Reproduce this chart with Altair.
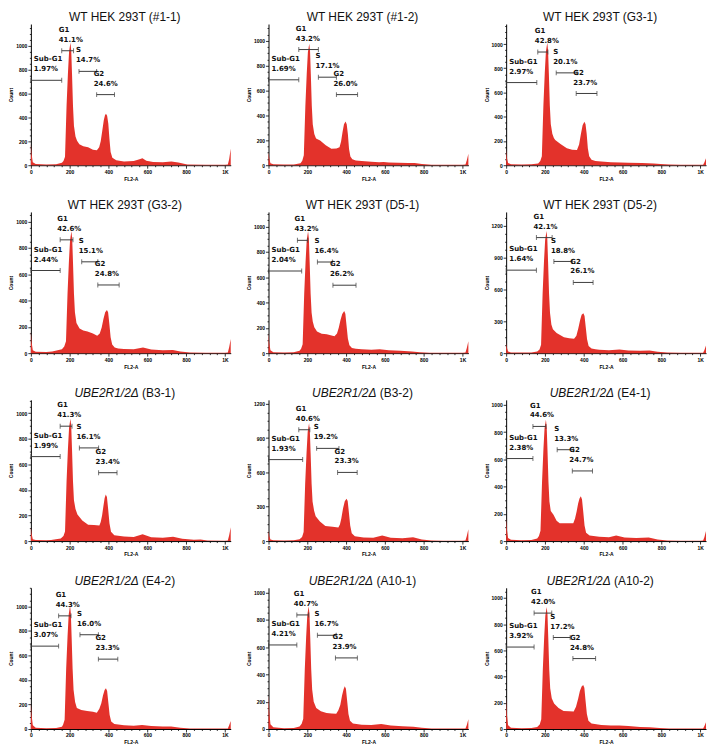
import altair as alt
import pandas as pd

# ---------------- panel text ----------------
panel_prefix = ["WT HEK 293T"] * 6 + ["UBE2R1/2Δ"] * 6
panel_clone = ["(#1-1)", "(#1-2)", "(G3-1)", "(G3-2)", "(D5-1)", "(D5-2)",
               "(B3-1)", "(B3-2)", "(E4-1)", "(E4-2)", "(A10-1)", "(A10-2)"]
prefix_italic = [False] * 6 + [True] * 6

# y-axis extent and major tick step of each panel
y_top = [1184, 1134, 1165, 1073, 1114, 1332, 1105, 1234, 1037, 1152, 1035, 1077]
y_major = [200, 200, 200, 200, 200, 300, 200, 300, 200, 200, 200, 200]

# gate percentages
pct_subg1 = ["1.97%", "1.69%", "2.97%", "2.44%", "2.04%", "1.64%",
             "1.99%", "1.93%", "2.38%", "3.07%", "4.21%", "3.92%"]
pct_g1 = ["41.1%", "43.2%", "42.8%", "42.6%", "43.2%", "42.1%",
          "41.3%", "40.6%", "44.6%", "44.3%", "40.7%", "42.0%"]
pct_s = ["14.7%", "17.1%", "20.1%", "15.1%", "16.4%", "18.8%",
         "16.1%", "19.2%", "13.3%", "16.0%", "16.7%", "17.2%"]
pct_g2 = ["24.6%", "26.0%", "23.7%", "24.8%", "26.2%", "26.1%",
          "23.4%", "23.3%", "24.7%", "23.3%", "23.9%", "24.8%"]

# gate ranges (FL2-A units) and gate heights (counts)
subg1_end = [159, 156, 158, 151, 171, 156, 151, 176, 138, 143, 146, 144]
subg1_level = [712, 686, 682, 628, 648, 783, 661, 712, 606, 676, 616, 625]
g1_start = [159, 156, 163, 151, 149, 156, 151, 156, 138, 143, 146, 144]
g1_end = [220, 257, 215, 217, 202, 237, 212, 213, 205, 207, 207, 235]
g1_level = [960, 929, 934, 861, 890, 1090, 899, 973, 842, 923, 836, 884]
s_start = [248, 257, 258, 262, 252, 246, 250, 248, 263, 253, 252, 243]
s_end = [339, 350, 365, 345, 329, 341, 349, 363, 346, 348, 349, 330]
s_level = [787, 707, 762, 694, 719, 865, 729, 810, 671, 769, 687, 698]
g2_start = [339, 350, 361, 345, 332, 346, 349, 356, 341, 348, 345, 344]
g2_end = [431, 459, 468, 455, 451, 448, 444, 457, 445, 448, 458, 461]
g2_level = [592, 567, 592, 518, 536, 667, 535, 600, 515, 570, 521, 537]

# ---------------- histograms (FL2-A channel, count) ----------------
fl2_p1 = [0, 4, 10, 25, 80, 130, 160, 168, 176, 184, 191, 197, 204, 208, 212, 217, 222, 230, 238, 250, 270, 295, 320, 340, 352,
          360, 368, 376, 382, 387, 393, 399, 405, 411, 420, 440, 480, 530, 560, 575, 595, 630, 680, 724, 760, 806, 900, 1000,
          1015, 1022, 1030]
cnt_p1 = [180, 90, 25, 10, 6, 8, 20, 35, 70, 500, 770, 955, 1027, 965, 770, 500, 330, 240, 205, 175, 160, 150, 130, 125, 150,
          200, 290, 380, 420, 432, 415, 350, 220, 110, 62, 42, 32, 35, 50, 58, 38, 26, 24, 32, 22, 5, 3, 3,
          6, 50, 140]

fl2_p2 = [0, 4, 10, 25, 80, 130, 165, 174, 182, 190, 197, 203, 210, 214, 218, 223, 228, 236, 245, 266, 295, 324, 350, 366, 374,
          382, 389, 397, 403, 409, 415, 422, 432, 450, 480, 530, 570, 593, 620, 670, 720, 753, 790, 840, 900, 1000, 1015, 1022, 1030]
cnt_p2 = [105, 55, 15, 8, 5, 6, 15, 35, 80, 480, 735, 910, 976, 920, 735, 480, 330, 250, 215, 198, 160, 132, 135, 145, 190,
          270, 330, 351, 330, 250, 130, 70, 48, 38, 33, 28, 24, 26, 22, 20, 17, 18, 10, 4, 3, 3, 5, 40, 92]

fl2_p3 = [0, 4, 10, 25, 80, 130, 165, 176, 184, 192, 199, 205, 212, 216, 220, 225, 230, 238, 246, 253, 280, 313, 340, 365, 376,
          385, 394, 403, 409, 415, 421, 428, 440, 460, 490, 540, 589, 630, 700, 760, 795, 840, 900, 1000, 1015, 1022, 1030]
cnt_p3 = [126, 60, 18, 8, 5, 7, 15, 35, 75, 495, 760, 940, 1011, 950, 760, 495, 340, 260, 225, 208, 175, 140, 128, 126, 170,
          255, 330, 359, 340, 260, 140, 75, 45, 35, 30, 24, 22, 20, 18, 14, 11, 6, 3, 3, 4, 25, 58]

fl2_p4 = [0, 4, 10, 25, 80, 110, 160, 172, 181, 189, 196, 202, 209, 213, 217, 222, 227, 235, 251, 270, 292, 320, 342, 355, 365,
          374, 383, 392, 398, 404, 411, 419, 432, 450, 480, 530, 578, 620, 680, 732, 770, 820, 900, 1000, 1015, 1022, 1030]
cnt_p4 = [164, 80, 22, 10, 8, 12, 30, 50, 90, 455, 695, 860, 927, 870, 695, 455, 310, 230, 188, 172, 164, 150, 132, 150, 195,
          260, 310, 328, 310, 230, 120, 65, 42, 36, 32, 30, 42, 28, 22, 24, 12, 5, 3, 3, 5, 45, 108]

fl2_p5 = [0, 4, 10, 25, 80, 130, 160, 168, 176, 184, 191, 197, 204, 208, 212, 217, 222, 228, 236, 250, 274, 300, 340, 353, 362,
          371, 380, 390, 396, 402, 409, 417, 430, 450, 480, 530, 573, 620, 680, 739, 780, 830, 900, 1000, 1015, 1022, 1030]
cnt_p5 = [158, 80, 22, 8, 6, 8, 18, 35, 70, 470, 720, 895, 962, 905, 720, 470, 320, 250, 205, 170, 153, 150, 133, 155, 200,
          262, 308, 332, 310, 220, 115, 62, 40, 34, 30, 26, 31, 22, 18, 13, 8, 4, 3, 3, 5, 40, 94]

fl2_p6 = [0, 4, 10, 25, 80, 130, 160, 172, 180, 188, 195, 201, 208, 212, 216, 221, 226, 233, 241, 260, 298, 325, 350, 362, 372,
          381, 389, 398, 404, 410, 417, 425, 440, 460, 480, 530, 584, 630, 690, 739, 780, 830, 900, 1000, 1015, 1022, 1030]
cnt_p6 = [94, 50, 15, 7, 5, 7, 15, 35, 80, 565, 865, 1070, 1153, 1085, 865, 565, 380, 270, 225, 190, 150, 140, 135, 165, 235,
          310, 362, 376, 350, 250, 130, 68, 43, 36, 32, 28, 34, 26, 22, 25, 12, 5, 3, 3, 4, 30, 72]

fl2_p7 = [0, 4, 10, 25, 80, 104, 154, 168, 176, 184, 191, 197, 204, 208, 212, 217, 222, 230, 240, 265, 295, 325, 353, 360, 367,
          374, 380, 386, 392, 398, 405, 413, 430, 480, 530, 576, 620, 680, 733, 780, 840, 874, 910, 1000, 1015, 1022, 1030]
cnt_p7 = [108, 55, 15, 8, 6, 8, 20, 40, 75, 470, 720, 890, 957, 900, 720, 470, 320, 250, 208, 160, 128, 125, 121, 150, 200,
          275, 335, 364, 345, 255, 140, 72, 46, 35, 32, 53, 30, 26, 33, 18, 10, 13, 4, 3, 5, 45, 108]

fl2_p8 = [0, 4, 10, 25, 80, 130, 160, 173, 181, 189, 196, 202, 209, 213, 217, 222, 227, 235, 243, 265, 293, 330, 360, 368, 375,
          384, 393, 402, 408, 414, 421, 429, 445, 490, 540, 586, 630, 690, 745, 790, 840, 900, 1000, 1015, 1022, 1030]
cnt_p8 = [90, 45, 14, 7, 5, 7, 16, 35, 80, 505, 770, 955, 1029, 965, 770, 505, 345, 265, 216, 170, 132, 125, 118, 145, 195,
          285, 348, 370, 350, 255, 135, 68, 43, 32, 30, 48, 30, 24, 34, 14, 5, 3, 3, 5, 45, 104]

fl2_p9 = [0, 4, 10, 25, 80, 130, 160, 169, 177, 185, 192, 198, 205, 209, 213, 218, 223, 230, 244, 260, 276, 310, 346, 355, 363,
          371, 378, 385, 391, 397, 404, 412, 430, 480, 530, 567, 610, 670, 735, 780, 830, 900, 1000, 1015, 1022, 1030]
cnt_p9 = [168, 85, 22, 9, 6, 8, 18, 38, 75, 435, 670, 830, 891, 840, 670, 435, 290, 220, 193, 150, 131, 131, 131, 165, 215,
          275, 312, 329, 305, 220, 115, 62, 41, 32, 28, 40, 26, 22, 27, 12, 5, 3, 3, 5, 30, 74]

fl2_p10 = [0, 4, 10, 25, 80, 130, 160, 166, 174, 182, 189, 195, 202, 206, 210, 215, 220, 228, 237, 260, 290, 320, 340, 353, 363,
           372, 380, 387, 393, 399, 406, 414, 430, 480, 530, 573, 620, 680, 723, 770, 820, 900, 1000, 1015, 1022, 1030]
cnt_p10 = [212, 110, 30, 10, 6, 8, 18, 35, 75, 495, 755, 935, 1008, 945, 755, 495, 320, 220, 172, 155, 146, 140, 133, 165, 210,
           275, 318, 332, 310, 220, 115, 62, 41, 30, 27, 32, 24, 20, 21, 10, 5, 3, 3, 4, 30, 66]

fl2_p11 = [0, 4, 10, 25, 80, 130, 160, 171, 179, 187, 194, 200, 207, 211, 215, 220, 225, 233, 246, 270, 299, 325, 349, 360, 370,
           379, 387, 393, 399, 405, 412, 420, 435, 480, 530, 581, 630, 690, 747, 790, 840, 900, 1000, 1015, 1022, 1030]
cnt_p11 = [249, 130, 35, 12, 6, 8, 18, 38, 75, 440, 675, 835, 900, 845, 675, 440, 290, 200, 154, 130, 118, 114, 111, 138, 175,
           245, 292, 313, 295, 210, 110, 60, 41, 32, 30, 36, 26, 20, 17, 9, 4, 3, 3, 4, 30, 71]

fl2_p12 = [0, 4, 10, 25, 80, 130, 160, 173, 181, 189, 196, 202, 209, 213, 217, 222, 227, 235, 247, 270, 296, 325, 348, 360, 371,
           380, 389, 397, 403, 409, 416, 424, 440, 490, 540, 583, 630, 690, 739, 790, 840, 900, 1000, 1015, 1022, 1030]
cnt_p12 = [233, 110, 28, 10, 6, 8, 16, 35, 75, 455, 700, 865, 930, 875, 700, 455, 310, 235, 194, 160, 137, 135, 134, 170, 230,
           290, 325, 336, 315, 220, 115, 62, 41, 30, 26, 26, 22, 16, 13, 8, 4, 3, 3, 4, 22, 52]

fl2_all = [fl2_p1, fl2_p2, fl2_p3, fl2_p4, fl2_p5, fl2_p6, fl2_p7, fl2_p8, fl2_p9, fl2_p10, fl2_p11, fl2_p12]
cnt_all = [cnt_p1, cnt_p2, cnt_p3, cnt_p4, cnt_p5, cnt_p6, cnt_p7, cnt_p8, cnt_p9, cnt_p10, cnt_p11, cnt_p12]

# ---------------- styling ----------------
RED = "#e3322b"
GATE = "#3c3c3c"
W, H = 201, 142
X_MAX = 1030
LBL_FONT = "DejaVu Sans"
TITLE_FONT = "Liberation Sans"
TITLE_SIZE = 12

CHAR_W = {"W": .944, "T": .611, "H": .722, "E": .667, "K": .667, "U": .722, "B": .667, "R": .722,
          "A": .667, "D": .722, "G": .778, "#": .556, "(": .333, ")": .333, "-": .333, "/": .278,
          " ": .278, "Δ": .668}


def text_width(s):
    return sum(CHAR_W.get(c, .556) for c in s) * TITLE_SIZE


def make_panel(i):
    hist = pd.DataFrame({"fl2": fl2_all[i], "count": cnt_all[i]})
    gates = pd.DataFrame({
        "gate": ["Sub-G1", "G1", "S", "G2"],
        "start": [0, g1_start[i], s_start[i], g2_start[i]],
        "end": [subg1_end[i], g1_end[i], s_end[i], g2_end[i]],
        "level": [subg1_level[i], g1_level[i], s_level[i], g2_level[i]],
        "pct": [pct_subg1[i], pct_g1[i], pct_s[i], pct_g2[i]],
    })

    major = y_major[i]
    minor = major // 4
    y_vals = list(range(0, y_top[i] + 1, minor))
    x_vals = list(range(0, 1001, 40))

    xscale = alt.Scale(domain=[0, X_MAX], nice=False, zero=False)
    yscale = alt.Scale(domain=[0, y_top[i]], nice=False)
    xaxis = alt.Axis(
        values=x_vals, title="FL2-A",
        labelExpr="datum.value % 200 === 0 ? (datum.value === 1000 ? '1K' : '' + datum.value) : ''",
        tickSize={"condition": {"test": "datum.value % 200 === 0", "value": 3}, "value": 1.5},
    )
    yaxis = alt.Axis(
        values=y_vals, title="Count",
        labelExpr=f"datum.value % {major} === 0 ? '' + datum.value : ''",
        tickSize={"condition": {"test": f"datum.value % {major} === 0", "value": 3}, "value": 1.5},
    )

    def X(field):
        return alt.X(field, type="quantitative", scale=xscale, axis=xaxis)

    def Y(field):
        return alt.Y(field, type="quantitative", scale=yscale, axis=yaxis)

    area = alt.Chart(hist).mark_area(color=RED, interpolate="linear", opacity=1).encode(
        x=X("fl2"), y=Y("count"))

    base_g = alt.Chart(gates)
    rule = base_g.mark_rule(color=GATE, strokeWidth=1).encode(x=X("start"), x2="end", y=Y("level"))
    ticks = base_g.transform_fold(["start", "end"], as_=["side", "pos"]).mark_tick(
        orient="vertical", size=5, thickness=1, color=GATE).encode(x=X("pos"), y=Y("level"))

    txt = dict(font=LBL_FONT, fontWeight="bold", fontSize=7, color="#111",
               align="left", baseline="alphabetic")
    sub = base_g.transform_filter("datum.gate === 'Sub-G1'")
    oth = base_g.transform_filter("datum.gate !== 'Sub-G1'")
    name_sub = sub.mark_text(dx=3, dy=-19, **txt).encode(x=X("start"), y=Y("level"), text="gate:N")
    pct_sub_l = sub.mark_text(dx=3, dy=-9, **txt).encode(x=X("start"), y=Y("level"), text="pct:N")
    name_oth = oth.mark_text(dx=-3, dy=-19, **txt).encode(x=X("start"), y=Y("level"), text="gate:N")
    pct_oth_l = oth.mark_text(dx=-3, dy=-9, **txt).encode(x=X("start"), y=Y("level"), text="pct:N")

    # panel title (italic gene name for the knockout clones)
    cx = W / 2 - 6
    tstyle = dict(font=TITLE_FONT, fontSize=TITLE_SIZE, color="#111", baseline="alphabetic")
    if prefix_italic[i]:
        w_it = text_width(panel_prefix[i])
        total = w_it + text_width(" ") + text_width(panel_clone[i])
        split = cx - total / 2 + w_it
        t1 = alt.Chart(pd.DataFrame({"t": [panel_prefix[i]]})).mark_text(
            align="right", fontStyle="italic", **tstyle).encode(
            x=alt.value(split), y=alt.value(-3), text="t:N")
        t2 = alt.Chart(pd.DataFrame({"t": [panel_clone[i]]})).mark_text(
            align="left", **tstyle).encode(
            x=alt.value(split + text_width(" ")), y=alt.value(-3), text="t:N")
        titles = [t1, t2]
    else:
        t1 = alt.Chart(pd.DataFrame({"t": [panel_prefix[i] + " " + panel_clone[i]]})).mark_text(
            align="center", **tstyle).encode(x=alt.value(cx), y=alt.value(-3), text="t:N")
        titles = [t1]

    return alt.layer(area, rule, ticks, name_sub, pct_sub_l, name_oth, pct_oth_l, *titles).properties(
        width=W, height=H)


panels = [make_panel(i) for i in range(12)]
rows = [alt.hconcat(*panels[r * 3:(r + 1) * 3], spacing=14) for r in range(4)]

chart = alt.vconcat(*rows, spacing=16).properties(padding=0).configure_view(
    stroke="transparent"
).configure_axis(
    grid=False,
    domainColor="#000", domainWidth=1,
    tickColor="#000", tickWidth=0.8,
    labelFont="Liberation Sans", labelFontSize=5, labelFontWeight="bold", labelColor="#000",
    labelPadding=1, labelOverlap=False, labelFlush=False,
    titleFont="Liberation Sans", titleFontSize=5, titleFontWeight="bold", titleColor="#000",
    titlePadding=2,
)

chart.save("out.html", embed_options={"renderer": "svg", "actions": False})
